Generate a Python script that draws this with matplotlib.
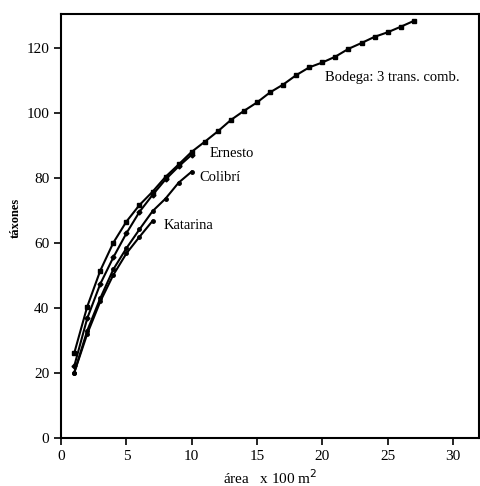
import matplotlib.pyplot as plt
import numpy as np

plt.rcParams['font.family'] = ['Liberation Serif', 'DejaVu Serif']

# valores
bodega_x = list(range(1, 28))
bodega_y = [26, 40.4, 51.5, 60.1, 66.6, 71.7, 75.8, 80.4, 84.2, 88.1,
            91.2, 94.4, 97.9, 100.7, 103.3, 106.4, 108.8, 111.7, 114.1, 115.6,
            117.4, 119.8, 121.6, 123.5, 124.9, 126.6, 128.4]

ernesto_x = list(range(1, 11))
ernesto_y = [22, 36.8, 47.4, 55.6, 63, 69.6, 74.8, 79.6, 83.6, 87.2]

colibri_x = list(range(1, 11))
colibri_y = [20, 33, 43, 51.9, 58.4, 64.2, 69.8, 73.7, 78.6, 82]

katarina_x = list(range(1, 8))
katarina_y = [20, 32, 42, 50.2, 56.8, 61.9, 66.8]

fig = plt.figure(figsize=(4.81, 4.86), dpi=100)
ax = fig.add_axes([0.127, 0.099, 0.869, 0.872])

ax.plot(bodega_x, bodega_y, color='black', lw=1.5, marker='s', ms=2.5)
ax.plot(ernesto_x, ernesto_y, color='black', lw=1.5, marker='D', ms=2.5)
ax.plot(colibri_x, colibri_y, color='black', lw=1.5, marker='o', ms=2.5)
ax.plot(katarina_x, katarina_y, color='black', lw=1.5, marker='o', ms=2.5)

ax.text(11.4, 86.5, 'Ernesto', fontsize=10.5)
ax.text(10.6, 79, 'Colibrí', fontsize=10.5)
ax.text(7.85, 64.3, 'Katarina', fontsize=10.5)
ax.text(20.2, 110, 'Bodega: 3 trans. comb.', fontsize=10.5)

ax.set_xlim(0, 32)
ax.set_ylim(0, 130.5)
ax.set_xticks([0, 5, 10, 15, 20, 25, 30])
ax.set_yticks([0, 20, 40, 60, 80, 100, 120])
ax.tick_params(direction='out', length=5, width=1.2, labelsize=11)
for s in ax.spines.values():
    s.set_linewidth(1.5)

ax.set_xlabel('área   x 100 m$^2$', fontsize=11)
ax.set_ylabel('táxones', fontsize=9, fontweight='bold')
ax.yaxis.set_label_coords(-0.095, 0.52)

plt.savefig('out.png')
